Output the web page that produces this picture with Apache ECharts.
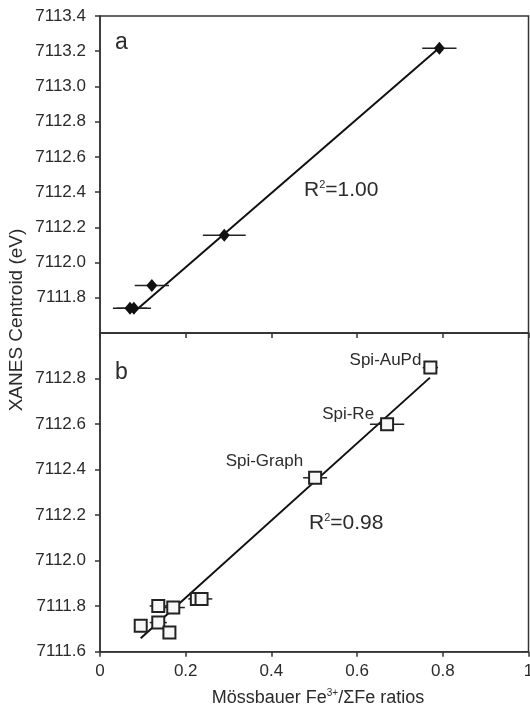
<!DOCTYPE html>
<html>
<head>
<meta charset="utf-8">
<script src="https://cdn.jsdelivr.net/npm/echarts@6/dist/echarts.min.js"></script>
<style>
  html, body { margin: 0; padding: 0; background: #fff; }
  #chart { width: 530px; height: 711px; }
</style>
</head>
<body>
<div id="chart"></div>
<script>
// panel a : diamonds
var aX = [0.070, 0.079, 0.121, 0.290, 0.792];
var aY = [7111.74, 7111.74, 7111.87, 7112.155, 7113.217];
var aErr = [0.04, 0.04, 0.04, 0.05, 0.04];
var fitAx = [0.08, 0.79];
var fitAy = [7111.72, 7113.215];

// panel b : open squares
var bX = [0.095, 0.136, 0.136, 0.171, 0.162, 0.226, 0.237, 0.502, 0.670, 0.771];
var bY = [7111.714, 7111.801, 7111.728, 7111.794, 7111.684, 7111.832, 7111.832, 7112.364, 7112.599, 7112.848];
var bErr = [0.015, 0.02, 0.02, 0.027, 0.015, 0.02, 0.025, 0.028, 0.04, 0.018];
var bNames = ["", "", "", "", "", "", "", "Spi-Graph", "Spi-Re", "Spi-AuPd"];
var fitBx = [0.095, 0.770];
var fitBy = [7111.659, 7112.804];

var xTicks = [0, 0.2, 0.4, 0.6, 0.8, 1];

var FONT = '"Liberation Sans", Arial, sans-serif';
var TXT = "#2b2b2b";
var LINE = "#333";

var chart = echarts.init(document.getElementById("chart"));

function xAxisCfg(grid, showLabels) {
  return {
    type: "value",
    gridIndex: grid,
    min: xTicks[0],
    max: xTicks[xTicks.length - 1],
    interval: 0.2,
    axisLine: { lineStyle: { color: LINE, width: 1.5 } },
    axisTick: { show: true, length: 5, lineStyle: { color: LINE, width: 1.5 } },
    splitLine: { show: false },
    axisLabel: {
      show: showLabels,
      margin: 11,
      color: TXT,
      fontSize: 17,
      fontFamily: FONT,
      formatter: function (v) { return String(+v.toFixed(1)); },
    },
  };
}

function yAxisCfg(grid, min, max, hideMin, hideMax) {
  return {
    type: "value",
    gridIndex: grid,
    min: min,
    max: max,
    interval: 0.2,
    axisLine: { show: true, lineStyle: { color: LINE, width: 1.5 } },
    axisTick: { show: true, length: 5, lineStyle: { color: LINE, width: 1.5 } },
    splitLine: { show: false },
    axisLabel: {
      margin: 14,
      color: TXT,
      fontSize: 17,
      fontFamily: FONT,
      showMinLabel: !hideMin,
      showMaxLabel: !hideMax,
      formatter: function (v) { return v.toFixed(1); },
    },
  };
}

function errBars(xs, ys, es, xi, yi) {
  return {
    type: "custom",
    xAxisIndex: xi,
    yAxisIndex: yi,
    z: 3,
    data: xs.map(function (x, i) { return [x, ys[i], es[i]]; }),
    encode: { x: 0, y: 1 },
    renderItem: function (params, api) {
      var y = api.value(1);
      var p1 = api.coord([api.value(0) - api.value(2), y]);
      var p2 = api.coord([api.value(0) + api.value(2), y]);
      return {
        type: "line",
        shape: { x1: p1[0], y1: p1[1], x2: p2[0], y2: p2[1] },
        style: { stroke: "#222", lineWidth: 1.5 },
      };
    },
  };
}

function fitLine(xs, ys, xi, yi) {
  return {
    type: "line",
    xAxisIndex: xi,
    yAxisIndex: yi,
    z: 2,
    symbol: "none",
    silent: true,
    lineStyle: { color: "#111", width: 2 },
    data: xs.map(function (x, i) { return [x, ys[i]]; }),
  };
}

var labelPos = {
  "Spi-Graph": { distance: 5, offset: [0, -16] },
  "Spi-Re": { distance: 6, offset: [0, -10] },
  "Spi-AuPd": { distance: 2, offset: [0, -7] },
};

var option = {
  animation: false,
  backgroundColor: "#fff",
  grid: [
    { left: 100, right: 1.5, top: 16, height: 317, outerBoundsMode: "none", show: true, borderColor: LINE, borderWidth: 1.5 },
    { left: 100, right: 1.5, top: 333, height: 318.7, outerBoundsMode: "none", show: true, borderColor: LINE, borderWidth: 1.5 },
  ],
  xAxis: [xAxisCfg(0, false), xAxisCfg(1, true)],
  yAxis: [
    yAxisCfg(0, 7111.6, 7113.4, true, false),
    yAxisCfg(1, 7111.6, 7113.0, false, true),
  ],
  series: [
    fitLine(fitAx, fitAy, 0, 0),
    errBars(aX, aY, aErr, 0, 0),
    {
      type: "scatter",
      xAxisIndex: 0,
      yAxisIndex: 0,
      z: 4,
      symbol: "diamond",
      symbolSize: [11, 13],
      itemStyle: { color: "#111", opacity: 1 },
      data: aX.map(function (x, i) { return [x, aY[i]]; }),
    },
    fitLine(fitBx, fitBy, 1, 1),
    errBars(bX, bY, bErr, 1, 1),
    {
      type: "scatter",
      xAxisIndex: 1,
      yAxisIndex: 1,
      z: 4,
      symbol: "rect",
      symbolSize: 12,
      itemStyle: { color: "#f7f7f7", borderColor: "#222", borderWidth: 2, opacity: 1 },
      data: bX.map(function (x, i) {
        var item = { value: [x, bY[i]], name: bNames[i] };
        var lp = labelPos[bNames[i]];
        if (lp) {
          item.label = {
            show: true,
            position: "left",
            distance: lp.distance,
            offset: lp.offset,
            formatter: "{b}",
            color: TXT,
            fontSize: 17,
            fontFamily: FONT,
          };
        }
        return item;
      }),
    },
  ],
  graphic: [
    {
      type: "text",
      x: 115, y: 43,
      style: { text: "a", font: "23px " + FONT, fill: TXT, textAlign: "left", textVerticalAlign: "middle" },
    },
    {
      type: "text",
      x: 115, y: 373,
      style: { text: "b", font: "23px " + FONT, fill: TXT, textAlign: "left", textVerticalAlign: "middle" },
    },
    {
      type: "text",
      x: 304, y: 190,
      style: {
        text: "{m|R}{s|2}{m|=1.00}",
        textAlign: "left",
        textVerticalAlign: "middle",
        rich: {
          m: { fontSize: 21, fontFamily: FONT, fill: TXT, lineHeight: 22 },
          s: { fontSize: 11, fontFamily: FONT, fill: TXT, verticalAlign: "top", lineHeight: 12 },
        },
      },
    },
    {
      type: "text",
      x: 309, y: 523,
      style: {
        text: "{m|R}{s|2}{m|=0.98}",
        textAlign: "left",
        textVerticalAlign: "middle",
        rich: {
          m: { fontSize: 21, fontFamily: FONT, fill: TXT, lineHeight: 22 },
          s: { fontSize: 11, fontFamily: FONT, fill: TXT, verticalAlign: "top", lineHeight: 12 },
        },
      },
    },
    {
      type: "text",
      x: 318, y: 698,
      style: {
        text: "{m|Mössbauer Fe}{s|3+}{m|/ΣFe ratios}",
        textAlign: "center",
        textVerticalAlign: "middle",
        rich: {
          m: { fontSize: 18, fontFamily: FONT, fill: TXT, lineHeight: 19 },
          s: { fontSize: 10, fontFamily: FONT, fill: TXT, verticalAlign: "top", lineHeight: 10 },
        },
      },
    },
    {
      type: "text",
      x: 17, y: 320,
      rotation: Math.PI / 2,
      style: { text: "XANES Centroid (eV)", font: "19px " + FONT, fill: TXT, textAlign: "center", textVerticalAlign: "middle" },
    },
  ],
};

chart.setOption(option);
window.addEventListener("resize", function () {
  chart.resize();
});
</script>
</body>
</html>
